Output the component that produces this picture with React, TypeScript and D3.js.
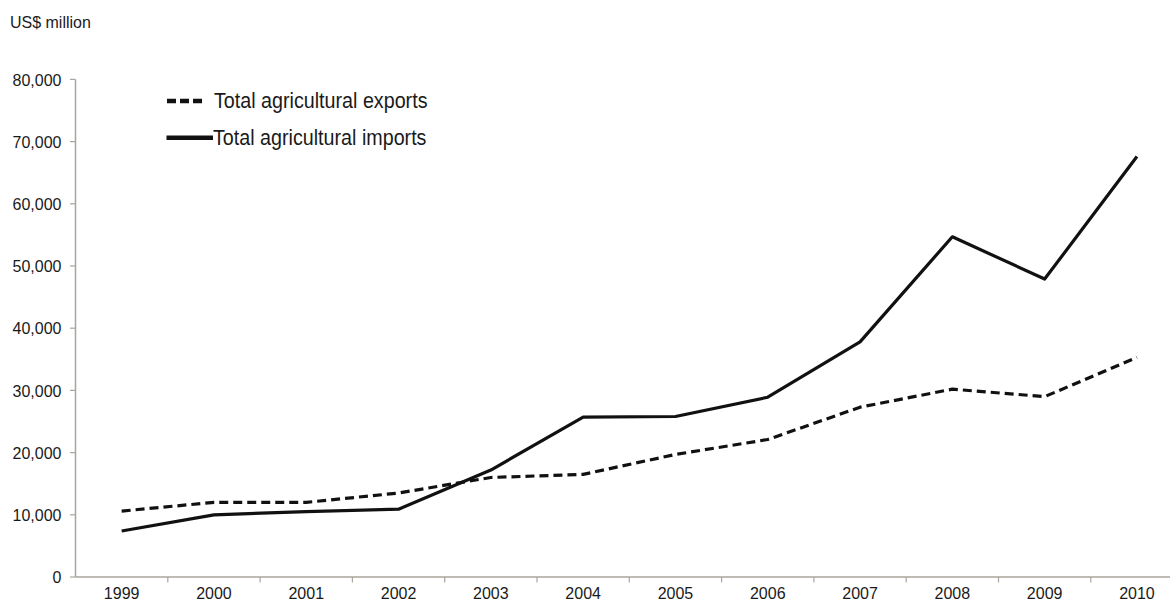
import React from "react";
import * as d3 from "d3";

const years = ["1999","2000","2001","2002","2003","2004","2005","2006","2007","2008","2009","2010"];
const exportsVals = [10600, 12000, 12000, 13500, 16000, 16500, 19700, 22100, 27300, 30200, 29000, 35300];
const importsVals = [7400, 10000, 10500, 10900, 17200, 25700, 25800, 28900, 37800, 54700, 47900, 67600];
const yTicks = [0, 10000, 20000, 30000, 40000, 50000, 60000, 70000, 80000];
const seriesNames = ["Total agricultural exports", "Total agricultural imports"];

const W = 1170, H = 603;
const FONT = "'Liberation Sans', Arial, sans-serif";
const SY = 1.08;

function T(props: { x: number; y: number; size: number; anchor?: string; sy?: number; children: React.ReactNode }) {
  return (
    <text
      transform={`translate(${props.x},${props.y}) scale(1,${props.sy ?? SY})`}
      textAnchor={props.anchor || "start"}
      fontFamily={FONT}
      fontSize={props.size}
      fill="#1a1a1a"
    >
      {props.children}
    </text>
  );
}

export default function App() {
  const x = d3.scaleBand<string>().domain(years).range([75.5, 1183.1]);
  const y = d3.scaleLinear().domain([0, 80000]).range([577, 79.4]);
  const cx = (d: string) => (x(d) as number) + x.bandwidth() / 2;
  const line = d3.line<number>().x((_, i) => cx(years[i])).y((v) => y(v));
  const fmt = d3.format(",");
  const axisColor = "#a9a59b";
  const boundaries = years.slice(1).map((d) => x(d) as number);

  return (
    <svg width={W} height={H} style={{ position: "absolute", left: 0, top: 0, background: "#fff" }}>
      <rect width={W} height={H} fill="#fff" />
      <T x={10} y={27.5} size={16}>US$ million</T>
      {/* y axis */}
      <line x1={75.5} x2={75.5} y1={y(80000)} y2={577} stroke={axisColor} strokeWidth={1.5} />
      {yTicks.map((t) => (
        <g key={t}>
          <line x1={70} x2={75.5} y1={y(t)} y2={y(t)} stroke={axisColor} strokeWidth={1.2} />
          <T x={61.5} y={y(t) + 6.2} size={16} anchor="end">{fmt(t)}</T>
        </g>
      ))}
      {/* x axis */}
      <line x1={75.5} x2={W} y1={577} y2={577} stroke={axisColor} strokeWidth={1.5} />
      {boundaries.map((b, i) => (
        <line key={i} x1={b} x2={b} y1={577} y2={582.5} stroke={axisColor} strokeWidth={1.2} />
      ))}
      {years.map((yr) => (
        <T key={yr} x={cx(yr)} y={599} size={16} sy={1} anchor="middle">{yr}</T>
      ))}
      {/* lines */}
      <path d={line(exportsVals) || ""} fill="none" stroke="#111" strokeWidth={3.2} strokeDasharray="9,5" strokeLinejoin="round" />
      <path d={line(importsVals) || ""} fill="none" stroke="#111" strokeWidth={3.2} strokeLinejoin="round" />
      {/* legend */}
      <line x1={167} x2={205} y1={101} y2={101} stroke="#111" strokeWidth={4.5} strokeDasharray="9,4" />
      <T x={214} y={108.3} size={19.7}>{seriesNames[0]}</T>
      <line x1={166.5} x2={213} y1={137.7} y2={137.7} stroke="#111" strokeWidth={4.5} />
      <T x={213} y={145} size={19.7}>{seriesNames[1]}</T>
    </svg>
  );
}
